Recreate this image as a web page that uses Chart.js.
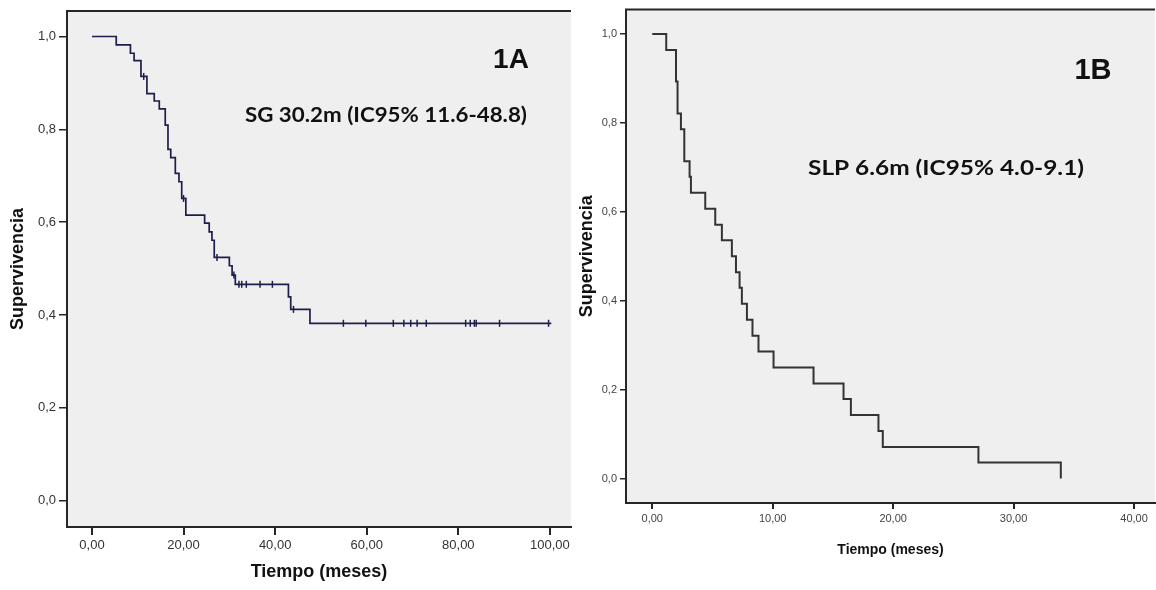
<!DOCTYPE html>
<html>
<head>
<meta charset="utf-8">
<script src="https://cdn.jsdelivr.net/npm/chart.js@4.4.1/dist/chart.umd.min.js"></script>
<style>
  html, body { margin: 0; padding: 0; background: #ffffff; }
  .panel { position: absolute; top: 0; }
  #panelA { left: 0; width: 580px; height: 590px; }
  #panelB { left: 578px; width: 578px; height: 590px; }
</style>
</head>
<body>
<div class="panel" id="panelA"><canvas id="chartA" width="580" height="590"></canvas></div>
<div class="panel" id="panelB"><canvas id="chartB" width="578" height="590"></canvas></div>
<script>
// Panel 1A - overall survival (SG)
const timeA = [0, 5.3, 8.4, 9.2, 10.7, 12.0, 13.6, 14.7, 16.0, 16.6, 17.2, 18.2, 19.0, 19.6, 20.5, 24.6, 25.6, 26.2, 26.7, 30.0, 30.6, 31.3, 42.9, 43.4, 47.6, 100.3];
const survA = [1.0, 0.982, 0.964, 0.948, 0.914, 0.877, 0.861, 0.844, 0.809, 0.757, 0.739, 0.705, 0.687, 0.651, 0.615, 0.598, 0.579, 0.561, 0.524, 0.506, 0.486, 0.466, 0.439, 0.412, 0.382, 0.382];
const censorTimeA = [11.3, 20.0, 27.3, 31.0, 32.1, 32.7, 33.7, 36.7, 39.4, 44.0, 54.9, 59.8, 65.8, 68.1, 69.6, 71.0, 73.0, 81.6, 82.6, 83.5, 83.9, 89.0, 99.7];
const censorSurvA = [0.914, 0.651, 0.524, 0.486, 0.466, 0.466, 0.466, 0.466, 0.466, 0.412, 0.382, 0.382, 0.382, 0.382, 0.382, 0.382, 0.382, 0.382, 0.382, 0.382, 0.382, 0.382, 0.382];
const xTicksA = [0, 20, 40, 60, 80, 100];

// Panel 1B - progression-free survival (SLP)
const timeB = [0, 1.16, 1.97, 2.10, 2.38, 2.66, 3.10, 3.21, 4.40, 5.23, 5.78, 6.61, 6.95, 7.25, 7.44, 7.86, 8.32, 8.82, 10.07, 13.39, 15.88, 16.49, 18.78, 19.14, 27.08, 33.92];
const survB = [1.0, 0.964, 0.893, 0.821, 0.786, 0.714, 0.679, 0.643, 0.607, 0.571, 0.536, 0.500, 0.464, 0.429, 0.393, 0.357, 0.321, 0.286, 0.250, 0.214, 0.179, 0.143, 0.107, 0.071, 0.036, 0.0];
const xTicksB = [0, 10, 20, 30, 40];

const yTicks = [0, 0.2, 0.4, 0.6, 0.8, 1.0];
const yTitle = "Supervivencia";
const xTitle = "Tiempo (meses)";
const labelA = "1A";
const noteA = "SG 30.2m (IC95% 11.6-48.8)";
const labelB = "1B";
const noteB = "SLP 6.6m (IC95% 4.0-9.1)";

const frameColor = "#262626";
const plotBg = "#efefef";

const panelDecor = {
    id: "panelDecor",
    beforeDraw(chart, args, opts) {
        const a = chart.chartArea;
        const ctx = chart.ctx;
        ctx.save();
        ctx.fillStyle = plotBg;
        ctx.fillRect(a.left, a.top, a.right - a.left, a.bottom - a.top);
        ctx.restore();
    },
    afterDraw(chart, args, opts) {
        const a = chart.chartArea;
        const ctx = chart.ctx;
        ctx.save();
        // top frame line
        ctx.strokeStyle = frameColor;
        ctx.lineWidth = 2;
        ctx.beginPath();
        ctx.moveTo(a.left - 1, a.top);
        ctx.lineTo(a.right, a.top);
        ctx.stroke();

        ctx.fillStyle = "#111";
        ctx.textBaseline = "middle";
        ctx.textAlign = "center";
        ctx.font = "bold " + opts.labelSize + "px 'Liberation Sans', Arial, sans-serif";
        ctx.fillText(opts.label, opts.labelX, opts.labelY);

        // the note is stretched a bit wider in the original
        ctx.textAlign = "left";
        ctx.font = "bold " + opts.noteSize + "px Lato, 'Open Sans', sans-serif";
        const w = ctx.measureText(opts.note).width;
        ctx.translate(opts.noteX, opts.noteY);
        ctx.scale(opts.noteWidth / w, 1);
        ctx.fillText(opts.note, 0, 0);
        ctx.restore();
    }
};

function fmt(digits) {
    return v => Number(v).toFixed(digits).replace(".", ",");
}

function createKMChart(canvasId, s) {
    const curve = s.times.map((t, i) => ({ x: t, y: s.surv[i] }));
    const censored = (s.censorTimes || []).map((t, i) => ({ x: t, y: s.censorSurv[i] }));
    const ctx = document.getElementById(canvasId).getContext("2d");
    return new Chart(ctx, {
        type: "line",
        data: {
            datasets: [
                {
                    data: curve,
                    stepped: true,
                    borderColor: s.lineColor,
                    borderWidth: s.lineWidth,
                    pointRadius: 0,
                    fill: false
                },
                {
                    data: censored,
                    showLine: false,
                    pointStyle: "line",
                    rotation: 90,
                    pointRadius: 3.5,
                    borderColor: s.lineColor,
                    borderWidth: 1.5
                }
            ]
        },
        options: {
            responsive: false,
            animation: false,
            devicePixelRatio: 1,
            layout: { padding: s.padding },
            plugins: {
                legend: { display: false },
                tooltip: { enabled: false },
                panelDecor: s.decor
            },
            scales: {
                x: {
                    type: "linear",
                    min: s.xMin,
                    max: s.xMax,
                    afterBuildTicks: sc => { sc.ticks = s.xTicks.map(v => ({ value: v })); },
                    afterFit: sc => { sc.height = s.xAxisHeight; },
                    ticks: {
                        callback: fmt(2),
                        color: s.tickColor,
                        font: { size: s.tickSize, family: "'Liberation Sans', Arial, sans-serif" },
                        padding: 3,
                        maxRotation: 0,
                        autoSkip: false
                    },
                    grid: {
                        drawOnChartArea: false,
                        drawTicks: true,
                        tickLength: s.tickLength,
                        color: frameColor,
                        lineWidth: 2
                    },
                    border: { display: true, color: frameColor, width: 2 },
                    title: {
                        display: true,
                        text: xTitle,
                        color: "#111",
                        font: { size: s.xTitleSize, weight: "bold", family: "'Liberation Sans', Arial, sans-serif" },
                        padding: { top: 0, bottom: s.xTitlePad }
                    }
                },
                y: {
                    type: "linear",
                    min: s.yMin,
                    max: s.yMax,
                    afterBuildTicks: sc => { sc.ticks = yTicks.map(v => ({ value: v })); },
                    afterFit: sc => { sc.width = s.yAxisWidth; },
                    ticks: {
                        callback: fmt(1),
                        color: s.tickColor,
                        font: { size: s.tickSize, family: "'Liberation Sans', Arial, sans-serif" },
                        padding: 3
                    },
                    grid: {
                        drawOnChartArea: false,
                        drawTicks: true,
                        tickLength: s.tickLength,
                        color: frameColor,
                        lineWidth: 1.5
                    },
                    border: { display: true, color: frameColor, width: 2 },
                    title: {
                        display: true,
                        text: yTitle,
                        color: "#111",
                        font: { size: s.yTitleSize, weight: "bold", family: "'Liberation Sans', Arial, sans-serif" },
                        padding: { top: s.yTitlePad, bottom: 0 }
                    }
                }
            }
        },
        plugins: [panelDecor]
    });
}

createKMChart("chartA", {
    times: timeA, surv: survA,
    censorTimes: censorTimeA, censorSurv: censorSurvA,
    xTicks: xTicksA,
    xMin: -5.45, xMax: 104.6, yMin: -0.057, yMax: 1.055,
    lineColor: "#1e1e4c", lineWidth: 1.7,
    padding: { top: 11, right: 9, left: 0, bottom: 0 },
    xAxisHeight: 63, yAxisWidth: 67,
    tickSize: 13, tickColor: "#333", tickLength: 8,
    xTitleSize: 18, xTitlePad: 7, yTitleSize: 18, yTitlePad: 7,
    decor: { label: labelA, labelX: 511, labelY: 60, labelSize: 28, note: noteA, noteX: 245, noteY: 115, noteSize: 21, noteWidth: 282 }
});

createKMChart("chartB", {
    times: timeB, surv: survB,
    xTicks: xTicksB,
    xMin: -2.18, xMax: 41.74, yMin: -0.055, yMax: 1.055,
    lineColor: "#333333", lineWidth: 2,
    padding: { top: 8, right: 1, left: 0, bottom: 0 },
    xAxisHeight: 87, yAxisWidth: 48,
    tickSize: 11, tickColor: "#444", tickLength: 6,
    xTitleSize: 14, xTitlePad: 31.6, yTitleSize: 18, yTitlePad: -2,
    decor: { label: labelB, labelX: 515, labelY: 71, labelSize: 29, note: noteB, noteX: 230, noteY: 168, noteSize: 21, noteWidth: 276 }
});
</script>
</body>
</html>
